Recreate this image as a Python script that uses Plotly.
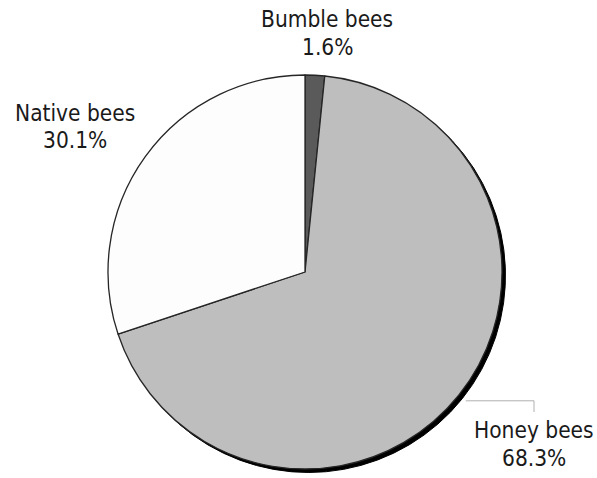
import math
import plotly.graph_objects as go

# Share of flower visits by bee group
groups = ["Bumble bees", "Honey bees", "Native bees"]
shares = [1.6, 68.3, 30.1]
fills = ["#5a5a5a", "#bebebe", "#fdfdfd"]

W, H = 597, 478
FONT = "DejaVu Sans Condensed, Liberation Sans Narrow, Arial Narrow, sans-serif"

# Pie geometry in pixels
cx, cy, r = 305, 272, 197
shadow = 3.5


def px_x(x):
    return x / W


def px_y(y):
    return 1 - y / H


def domain(dx=0.0, dy=0.0):
    return dict(
        x=[px_x(cx - r + dx), px_x(cx + r + dx)],
        y=[px_y(cy + r + dy), px_y(cy - r + dy)],
    )


fig = go.Figure()

# Drop shadow: a black copy of the pie nudged right and down
fig.add_trace(go.Pie(
    values=shares, labels=groups, sort=False, direction="clockwise", rotation=0,
    marker=dict(colors=["#000000"] * len(shares), line=dict(color="#000000", width=1)),
    textinfo="none", hoverinfo="skip", showlegend=False,
    domain=domain(shadow, shadow),
))

fig.add_trace(go.Pie(
    values=shares, labels=groups, sort=False, direction="clockwise", rotation=0,
    marker=dict(colors=fills, line=dict(color="#262626", width=1.3)),
    textinfo="none", hoverinfo="skip", showlegend=False,
    domain=domain(),
))

# Label placement (pixel centres of the name line and the value line)
label_pos = {
    "Bumble bees": (327, 19, 47),
    "Native bees": (75, 113, 140),
    "Honey bees": (534, 430, 458),
}

annotations = []
for name, val in zip(groups, shares):
    x, y1, y2 = label_pos[name]
    for text, y in ((name, y1), (f"{val:.1f}%", y2)):
        annotations.append(dict(
            x=px_x(x), y=px_y(y), xref="paper", yref="paper",
            text=text, showarrow=False, xanchor="center", yanchor="middle",
            font=dict(family=FONT, size=22.5, color="#1a1a1a"),
        ))

# Leader line from the honey bee slice to its label
total = sum(shares)
mid = (shares[0] + shares[1] / 2) / total * 2 * math.pi
sx = cx + (r + 9) * math.sin(mid)
sy = cy - (r + 9) * math.cos(mid)
lx, ly = label_pos["Honey bees"][0], label_pos["Honey bees"][1] - 18
shapes = [
    dict(type="line", xref="paper", yref="paper",
         x0=px_x(sx), y0=px_y(sy), x1=px_x(lx), y1=px_y(sy),
         line=dict(color="#b0b0b0", width=1)),
    dict(type="line", xref="paper", yref="paper",
         x0=px_x(lx), y0=px_y(sy), x1=px_x(lx), y1=px_y(ly),
         line=dict(color="#b0b0b0", width=1)),
]

fig.update_layout(
    width=W, height=H,
    margin=dict(l=0, r=0, t=0, b=0),
    paper_bgcolor="white", plot_bgcolor="white",
    annotations=annotations, shapes=shapes,
)

fig.write_html("out.html")
